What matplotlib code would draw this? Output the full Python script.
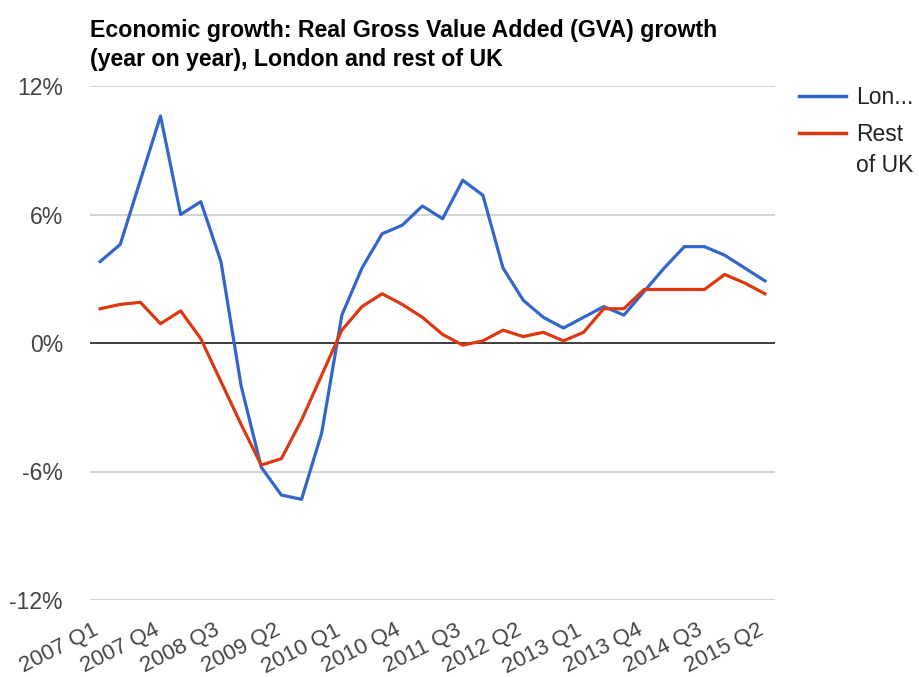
import matplotlib
matplotlib.use("Agg")
import matplotlib.pyplot as plt
import matplotlib.transforms as mtransforms
from matplotlib.lines import Line2D

quarters = [f"{y} Q{q}" for y in range(2007, 2016) for q in range(1, 5)][:34]

london = [3.8, 4.6, 7.6, 10.6, 6.0, 6.6, 3.8, -2.0, -5.8, -7.1, -7.3, -4.2,
          1.3, 3.5, 5.1, 5.5, 6.4, 5.8, 7.6, 6.9, 3.5, 2.0, 1.2, 0.7,
          1.2, 1.7, 1.3, 2.4, 3.5, 4.5, 4.5, 4.1, 3.5, 2.9]
rest_uk = [1.6, 1.8, 1.9, 0.9, 1.5, 0.2, -1.8, -3.8, -5.7, -5.4, -3.6, -1.5,
           0.6, 1.7, 2.3, 1.8, 1.2, 0.4, -0.1, 0.1, 0.6, 0.3, 0.5, 0.1,
           0.5, 1.6, 1.6, 2.5, 2.5, 2.5, 2.5, 3.2, 2.8, 2.3]

tick_every = 3
y_ticks = [-12, -6, 0, 6, 12]
series_names = ["Lon...", "Rest\nof UK"]
colors = ['#3366cc', '#dc3912']

plt.rcParams['font.family'] = ['Liberation Sans', 'DejaVu Sans']

fig = plt.figure(figsize=(9.19, 6.77), dpi=100)
ax = fig.add_axes([90/919, 1 - 600/677, 685/919, 514/677])

x = list(range(len(quarters)))
ax.plot(x, london, color=colors[0], lw=2.3, solid_joinstyle='round')
ax.plot(x, rest_uk, color=colors[1], lw=2.3, solid_joinstyle='round')

ax.set_xlim(-0.5, len(quarters) - 0.5)
ax.set_ylim(-12, 12)
ax.set_yticks(y_ticks)
ax.set_yticklabels([f"{v}%" for v in y_ticks])
for v in y_ticks:
    ax.axhline(v, color='#cccccc', lw=1.2, zorder=0)
ax.axhline(0, color='#333333', lw=1.3, zorder=1)

# slanted category labels as plain texts so they can be nudged
ax.set_xticks([])
lab_trans = ax.get_xaxis_transform() + mtransforms.ScaledTranslation(
    -7.5/100, -20/100, fig.dpi_scale_trans)
for i in x[::tick_every]:
    ax.text(i, 0, quarters[i], transform=lab_trans, rotation=27,
            rotation_mode='anchor', ha='right', va='top',
            fontsize=16, color='#444444', clip_on=False)

ax.tick_params(axis='both', length=0, labelsize=16.5, labelcolor='#444444')
ax.tick_params(axis='y', pad=19.5)
for s in ax.spines.values():
    s.set_visible(False)
ax.grid(False)

fig.text(90/919, 1 - 66/677, "Economic growth: Real Gross Value Added (GVA) growth\n(year on year), London and rest of UK",
         fontsize=16.7, fontweight='bold', color='#000000', ha='left', va='baseline',
         linespacing=1.35)

# legend drawn by hand so the red key sits on the first line of its label
leg_y = [96, 133]
for name, c, yy in zip(series_names, colors, leg_y):
    fy = 1 - yy/677
    fig.add_artist(Line2D([799/919, 846/919], [fy, fy], color=c, lw=2.5,
                          transform=fig.transFigure))
    fig.text(856/919, 1 - (yy - 10)/677, name, fontsize=16.5, color='#222222',
             ha='left', va='top', linespacing=1.45)

fig.savefig("out.png", dpi=100)
